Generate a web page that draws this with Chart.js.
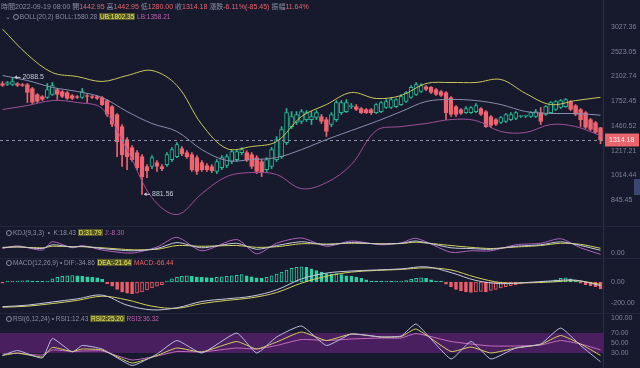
<!DOCTYPE html>
<html>
<head>
<meta charset="utf-8">
<title>K線</title>
<script src="https://cdn.jsdelivr.net/npm/chart.js@4.4.1/dist/chart.umd.min.js"></script>
<style>
  html, body { margin: 0; padding: 0; background: #171a2c; }
  #wrap { position: relative; width: 640px; height: 368px; overflow: hidden; background: #171a2c;
          font-family: "Liberation Sans", "Noto Sans CJK TC", sans-serif; }
  canvas { position: absolute; left: 0; }
  .sep { position: absolute; left: 0; width: 640px; height: 1px; background: #23273c; }
  .lg { position: absolute; font-size: 6.5px; line-height: 9px; color: #8a8ea6; white-space: nowrap; }
  .r { color: #e9656e; }
  .hl { background: rgba(160,160,40,.45); color: #f2f25a; padding: 0 1px; }
  .pk { color: #c45fb0; }
  .ic { display: inline-block; width: 4px; height: 4px; border: 1px solid #8a8ea6; border-radius: 50%;
        margin-right: 1px; vertical-align: -1px; }
  #tab { position: absolute; left: 634px; top: 179px; width: 6px; height: 16px; background: #3a4774; }
</style>
</head>
<body>
<div id="wrap">
  <canvas id="main" width="640" height="226" style="top:0"></canvas>
  <canvas id="kdj" width="640" height="32" style="top:226px"></canvas>
  <canvas id="macd" width="640" height="55" style="top:258px"></canvas>
  <canvas id="rsi" width="640" height="55" style="top:313px"></canvas>
  <div class="sep" style="top:226px"></div>
  <div class="sep" style="top:258px"></div>
  <div class="sep" style="top:313px"></div>
  <div id="tab"></div>

  <div class="lg" style="top:2px;left:1px;font-size:7px">時間2022-09-19 08:00 開<span class="r">1442.95</span> 高<span class="r">1442.95</span> 低<span class="r">1280.00</span> 收<span class="r">1314.18</span> 漲跌<span class="r">-6.11%(-85.45)</span> 振幅<span class="r">11.64%</span></div>
  <div class="lg" style="top:12px;left:5px">⌄ <span class="ic"></span>BOLL(20,2) BOLL:1580.28 <span class="hl">UB:1802.35</span> <span class="pk">LB:1358.21</span></div>
  <div class="lg" style="top:228px;left:6px"><span class="ic"></span>KDJ(9,3,3) &nbsp;• &nbsp;K:18.43 <span class="hl">D:31.79</span> <span class="pk">J:-8.30</span></div>
  <div class="lg" style="top:258px;left:6px"><span class="ic"></span>MACD(12,26,9) • DIF:-34.86 <span class="hl">DEA:-21.64</span> <span class="r">MACD:-66.44</span></div>
  <div class="lg" style="top:314px;left:6px"><span class="ic"></span>RSI(6,12,24) • RSI1:12.43 <span class="hl">RSI2:25.20</span> <span class="pk">RSI3:36.32</span></div>
</div>

<script>
// candles, oldest first
const opens = [
  1996,1982,1982,1996,1982,1982,1924,1840,1814,1800,
  1840,1910,1882,1868,1827,1814,1800,1827,1814,1814,
  1800,1760,1684,1588,1453,1320,1245,1199,1164,1082,
  1082,1114,1082,1098,1139,1164,1235,1199,1182,1156,
  1114,1090,1082,1043,1074,1090,1123,1139,1199,1199,
  1182,1156,1123,1058,1082,1139,1164,1291,1453,1497,
  1508,1530,1530,1553,1565,1530,1475,1530,1611,1623,
  1684,1684,1660,1648,1648,1611,1623,1672,1672,1684,
  1709,1748,1800,1840,1882,1953,1939,1910,1882,1868,
  1800,1684,1648,1611,1611,1623,1660,1623,1565,1530,
  1497,1508,1530,1542,1565,1568,1565,1565,1611,1588,
  1611,1648,1672,1684,1748,1697,1648,1611,1530,1497,
  1442.95];
const highs = [
  2026,2026,2088.5,2011,1996,1996,1939,1854,1827,1996,
  2011,1924,1895,1882,1840,1827,1924,1840,1827,1827,
  1814,1774,1697,1600,1475,1340,1263,1217,1182,1098,
  1173,1131,1098,1199,1245,1291,1254,1217,1199,1173,
  1131,1106,1098,1139,1173,1182,1226,1226,1245,1217,
  1199,1173,1139,1156,1245,1350,1453,1660,1623,1623,
  1648,1635,1623,1635,1588,1553,1611,1760,1760,1774,
  1722,1709,1672,1660,1660,1722,1748,1774,1800,1787,
  1840,1882,1967,2011,1996,1967,1953,1924,1895,1882,
  1814,1697,1660,1684,1684,1722,1672,1635,1576,1542,
  1565,1600,1611,1623,1576,1580,1623,1648,1672,1697,
  1748,1760,1774,1787,1760,1709,1660,1623,1542,1508,
  1442.95];
const lows = [
  1953,1967,1967,1953,1953,1735,1722,1735,1760,1787,
  1827,1774,1800,1774,1774,1787,1787,1735,1787,1774,
  1697,1565,1453,1164,1082,1058,1123,1058,881.56,997,
  1066,1043,1050,1082,1123,1156,1173,1148,1043,1020,
  1043,1043,1035,1027,1058,1074,1106,1123,1182,1123,
  1066,1027,1005,1043,1066,1123,1148,1272,1432,1475,
  1486,1508,1475,1530,1486,1350,1453,1508,1588,1611,
  1660,1635,1600,1600,1588,1600,1611,1660,1660,1672,
  1697,1735,1787,1827,1868,1895,1854,1827,1814,1530,
  1565,1565,1588,1600,1600,1611,1576,1443,1443,1464,
  1486,1497,1519,1530,1553,1553,1553,1553,1475,1576,
  1600,1635,1660,1672,1635,1576,1453,1432,1411,1380,
  1280.00];
const closes = [
  1967,2011,2026,1967,1967,1868,1735,1748,1774,1910,
  1967,1840,1814,1787,1787,1800,1882,1814,1800,1787,
  1709,1588,1475,1301,1182,1164,1139,1074,1005,1050,
  1156,1082,1066,1182,1226,1272,1190,1164,1058,1043,
  1058,1058,1050,1123,1156,1164,1208,1208,1226,1139,
  1082,1043,1035,1139,1226,1320,1422,1611,1565,1588,
  1623,1611,1565,1611,1508,1401,1588,1735,1735,1735,
  1697,1648,1611,1611,1611,1709,1735,1748,1774,1774,
  1814,1868,1939,1982,1967,1910,1868,1840,1827,1611,
  1588,1588,1600,1660,1672,1697,1588,1453,1464,1475,
  1553,1588,1588,1611,1568,1570,1611,1623,1508,1684,
  1735,1748,1760,1774,1648,1588,1530,1443,1422,1391,
  1314.18];

// Bollinger bands, read every 5th candle
const bollIdx = [0,5,10,15,20,25,30,35,40,45,50,55,60,65,70,75,80,85,90,95,100,105,110,115,120];
const bollUpper = [2982,2472,2164,2101,2026,2117,2197,1967,1475,1235,1254,1301,1565,1709,1868,1787,1827,1996,2011,2011,2056,1854,1709,1760,1802.35];
const bollMid = [2117,2041,1939,1882,1800,1623,1486,1401,1226,1131,1139,1156,1226,1320,1411,1508,1623,1748,1774,1760,1709,1623,1600,1600,1580.28];
const bollLower = [1648,1697,1760,1735,1660,1226,860,759,886,1005,1035,1020,919,961,1098,1411,1453,1486,1530,1519,1401,1391,1475,1453,1358.21];

// MACD
const macdIdx = bollIdx;
const dif = [-235,-220,-190,-160,-125,-220,-265,-245,-185,-160,-135,-75,30,85,105,115,125,145,90,15,-15,-5,10,18,-34.86];
const dea = [-240,-230,-205,-175,-135,-170,-230,-250,-205,-175,-150,-100,-10,55,95,110,120,135,115,45,-5,-8,0,12,-21.64];
const macdHist = [
  -10,2,4,8,12,15,5,2,2,4,
  30,45,55,60,62,60,55,50,45,40,
  25,-15,-40,-70,-95,-105,-110,-105,-95,-75,
  -55,-40,-25,10,30,45,55,60,55,48,
  45,42,40,45,50,55,60,65,70,60,
  50,40,35,45,60,75,95,115,130,140,
  145,140,125,110,95,80,75,80,70,60,
  55,45,35,20,10,5,3,5,3,5,
  8,15,25,35,40,35,20,10,3,-20,
  -45,-70,-85,-95,-100,-95,-90,-95,-80,-70,
  -55,-45,-35,-25,-15,-8,-5,-3,-3,3,
  10,20,35,40,30,15,-10,-25,-35,-45,
  -66.44];

// KDJ and RSI, read at turning points
const oscIdx = [0,3,8,10,14,16,20,26,31,35,40,47,51,55,60,65,70,76,80,83,90,94,98,103,108,112,116,120];
const kdjK = [35,42,30,55,40,45,30,15,30,70,35,65,25,50,75,55,70,60,65,80,35,30,25,45,55,75,50,18.43];
const kdjD = [38,40,35,45,42,42,35,22,25,50,45,50,38,42,62,60,65,62,63,72,50,38,30,40,50,65,58,31.79];
const kdjJ = [30,48,20,75,35,50,20,0,40,105,15,90,-5,65,100,45,80,55,68,98,5,15,15,55,65,95,35,-8.30];
const rsi1 = [25,35,20,59,32,45,38,5,28,55,30,70,30,62,84,45,68,62,64,88,18,53,18,40,48,80,45,12.43];
const rsi2 = [25,30,22,41,33,38,36,10,25,40,32,53,38,52,72,55,68,62,63,78,33,42,30,40,47,65,48,25.20];
const rsi3 = [28,29,26,36,33,34,34,16,24,33,32,40,38,45,57,55,58,60,60,69,53,48,44,44,46,55,48,36.32];

// axis ticks
const priceTicks = [3027.36, 2523.05, 2102.74, 1752.45, 1460.52, 1217.21, 1014.44, 845.45];
const kdjTicks = [0];
const macdTicks = [0, -200];
const rsiTicks = [100, 70, 50, 30];
const rsiBand = [30, 70];
const extremeIdx = [2, 28];
const extremeVal = [2088.5, 881.56];
const lastPrice = 1314.18;

const BG = '#171a2c', UP = '#27b592', DOWN = '#ee6570';
const MUP = '#2ad0a6', MDOWN = '#ee5f6b';
const C1 = '#c6c8dc', C2 = '#d3d25a', C3 = '#b062c0';

Chart.defaults.font.family = '"Liberation Sans", sans-serif';
Chart.defaults.font.size = 7;

const labels = opens.map((_, i) => String(i));
const pts = (idx, vals) => idx.map((i, k) => ({ x: String(i), y: vals[k] }));
const line = (idx, vals, color, tension) => ({
  type: 'line', data: pts(idx, vals), borderColor: color, borderWidth: 1,
  pointRadius: 0, tension: tension === undefined ? 0.35 : tension, order: 0
});

function rightAxis(type, min, max, ticks) {
  return {
    type, position: 'right', min, max,
    grid: { display: false, drawTicks: false },
    border: { display: true, color: '#2b2f46' },
    ticks: { color: '#7e839b', padding: 8, autoSkip: false, callback: v => Number(v).toFixed(2) },
    afterBuildTicks: s => { s.ticks = ticks.map(v => ({ value: v })); },
    afterFit: s => { s.width = 37; s.paddingTop = 0; s.paddingBottom = 0; }
  };
}

function panel(id, datasets, yAxis, plugins) {
  return new Chart(document.getElementById(id), {
    type: 'bar',
    data: { labels, datasets },
    options: {
      responsive: false, animation: false, events: [],
      layout: { padding: 0 },
      plugins: { legend: { display: false }, tooltip: { enabled: false } },
      scales: { x: { type: 'category', offset: true, display: false }, y: yAxis }
    },
    plugins: plugins || []
  });
}

// price line, last price tag and the high / low marks
const mainMarks = {
  id: 'mainMarks',
  afterDatasetsDraw(chart) {
    const { ctx, chartArea: a, scales: { x, y } } = chart;
    const py = Math.round(y.getPixelForValue(lastPrice)) + 0.5;
    ctx.save();
    ctx.strokeStyle = '#8d90a6';
    ctx.lineWidth = 1;
    ctx.setLineDash([3, 3]);
    ctx.beginPath(); ctx.moveTo(a.left, py); ctx.lineTo(a.right, py); ctx.stroke();
    ctx.setLineDash([]);
    ctx.fillStyle = '#e9656e';
    ctx.fillRect(a.right + 2, py - 7, 34, 13);
    ctx.fillStyle = '#fff3f3';
    ctx.font = '7px "Liberation Sans"';
    ctx.textBaseline = 'middle';
    ctx.fillText(lastPrice.toFixed(2), a.right + 6, py);
    ctx.fillStyle = '#c9cbd8';
    ctx.strokeStyle = '#c9cbd8';
    extremeIdx.forEach((i, k) => {
      const px = x.getPixelForValue(i) + 2;
      const ey = y.getPixelForValue(extremeVal[k]);
      ctx.beginPath(); ctx.moveTo(px, ey); ctx.lineTo(px + 6, ey); ctx.stroke();
      ctx.beginPath(); ctx.moveTo(px, ey); ctx.lineTo(px + 2.5, ey - 2); ctx.lineTo(px + 2.5, ey + 2); ctx.fill();
      ctx.fillText(String(extremeVal[k]), px + 8, ey);
    });
    ctx.restore();
  }
};

const rsiBandPlugin = {
  id: 'rsiBand',
  beforeDatasetsDraw(chart) {
    const { ctx, chartArea: a, scales: { y } } = chart;
    const top = y.getPixelForValue(rsiBand[1]);
    const bot = y.getPixelForValue(rsiBand[0]);
    ctx.save();
    ctx.fillStyle = '#4a1f5f';
    ctx.fillRect(a.left, top, a.right - a.left, bot - top);
    ctx.restore();
  }
};

const isUp = closes.map((c, i) => c >= opens[i]);
const candleColor = isUp.map(u => u ? UP : DOWN);

panel('main', [
  line(bollIdx, bollUpper, '#c9c95c'),
  line(bollIdx, bollMid, '#8a8db0'),
  line(bollIdx, bollLower, '#a0509a'),
  {
    data: opens.map((o, i) => [o, closes[i]]),
    backgroundColor: isUp.map(u => u ? BG : DOWN),
    borderColor: candleColor, borderWidth: 1, borderSkipped: false,
    barThickness: 4, minBarLength: 1, grouped: false, order: 1
  },
  {
    data: lows.map((l, i) => [l, highs[i]]),
    backgroundColor: candleColor, borderWidth: 0,
    barThickness: 1, grouped: false, order: 2
  }
], rightAxis('logarithmic', 697.9, 3695, priceTicks), [mainMarks]);

panel('kdj', [
  line(oscIdx, kdjK, C1, 0.25),
  line(oscIdx, kdjD, C2, 0.25),
  line(oscIdx, kdjJ, C3, 0.25)
], rightAxis('linear', -33, 180, kdjTicks));

panel('macd', [
  line(macdIdx, dif, C1),
  line(macdIdx, dea, C2),
  {
    data: macdHist,
    backgroundColor: macdHist.map((v, i) => (i > 0 && v > macdHist[i - 1]) ? BG : (v >= 0 ? MUP : MDOWN)),
    borderColor: macdHist.map(v => v >= 0 ? MUP : MDOWN),
    borderWidth: 1, borderSkipped: false, barThickness: 3, minBarLength: 1, order: 1
  }
], rightAxis('linear', -295, 229, macdTicks));

panel('rsi', [
  line(oscIdx, rsi1, '#b9bde0', 0.15),
  line(oscIdx, rsi2, C2, 0.15),
  line(oscIdx, rsi3, '#c86ac0', 0.15)
], rightAxis('linear', 0, 110, rsiTicks), [rsiBandPlugin]);
</script>
</body>
</html>
